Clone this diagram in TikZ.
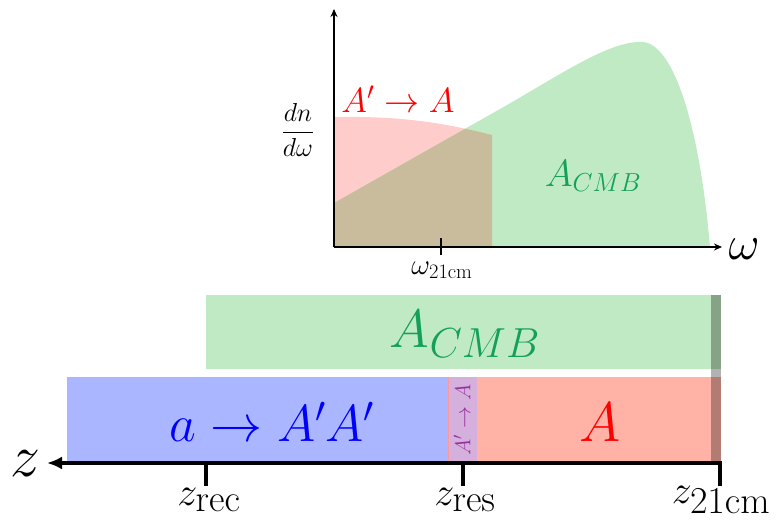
\RequirePackage{fix-cm}
\documentclass[tikz,border=0pt]{standalone}
\usetikzlibrary{arrows.meta}
\newcommand{\fsz}[1]{\fontsize{#1}{#1}\selectfont}
\DeclareMathSizes{40}{40}{38}{30}
\DeclareMathSizes{54}{54}{42}{33}
\DeclareMathSizes{29}{29}{20.5}{15}
\DeclareMathSizes{38}{38}{26}{20}
\definecolor{cmbfill}{RGB}{192,234,196}
\definecolor{pinkfill}{RGB}{255,204,204}
\definecolor{tanfill}{RGB}{201,188,156}
\definecolor{bluefill}{RGB}{170,182,255}
\definecolor{redfill}{RGB}{255,178,165}
\definecolor{purplefill}{RGB}{214,176,220}
\definecolor{cmbtext}{RGB}{20,160,90}
\definecolor{purpletext}{RGB}{150,50,160}
\tikzset{
  plotaxis/.style={line width=2.2pt},
  zaxis/.style={line width=3.4pt},
  lbl/.style={inner sep=0pt, anchor=center}
}
\begin{document}
\begin{tikzpicture}[x=1pt,y=-1pt]
\useasboundingbox (0,0) rectangle (777,522);
% ---- upper plot ----
\def\pinkpath{(334,247) -- (334,117) .. controls (400,116) and (440,122) .. (492,135) -- (492,247) -- cycle}
\def\greenpath{(334,247) -- (334,203) -- (500,109) .. controls (560,75) and (610,40) .. (643,42) .. controls (675,45) and (700,130) .. (710,247) -- cycle}
\fill[pinkfill] \pinkpath;
\fill[cmbfill] \greenpath;
\begin{scope}
  \clip \pinkpath;
  \fill[tanfill] \greenpath;
\end{scope}
\coordinate (O) at (334,247);
\coordinate (Ytop) at (334,9);
\coordinate (Xend) at (722,247);
\draw[plotaxis,-{Stealth[length=8pt,width=7pt]}] (O) -- (Ytop);
\draw[plotaxis,-{Stealth[length=8pt,width=7pt]}] (O) -- (Xend);
\coordinate (tka) at (441,238);
\coordinate (tkb) at (441,255);
\draw[line width=2.6pt] (tka) -- (tkb);
\node[lbl] (w21) at (442,270) {\fsz{29}$\omega_{21\mathrm{cm}}$};
\node[lbl] (w) at (744,249) {\fsz{48}$\omega$};
\node[lbl] (dndw) at (298,130) {\fsz{26}$\displaystyle\frac{dn}{d\omega}$};
\node[lbl, text=red] (aprimea) at (398,99) {\fsz{35}$A'\rightarrow A$};
\node[lbl, text=cmbtext] (acmbup) at (593,176) {\fsz{38}$A_{CMB}$};
% ---- lower bars ----
\fill[cmbfill] (206,295) rectangle (721,369);
\fill[bluefill] (67,377) rectangle (448,463);
\fill[purplefill] (448,377) rectangle (477,463);
\draw[red!40, line width=0.6pt] (448,377) -- (448,463) (477,377) -- (477,463);
\fill[redfill] (477.3,377) rectangle (721,463);
\fill[black, opacity=0.3] (711,295) rectangle (721,463);
\node[lbl, text=cmbtext] (acmb) at (465,334) {\fsz{54}$A_{CMB}$};
\node[lbl, text=blue] (aaa) at (272,422) {\fsz{52}$a\rightarrow A'A'$};
\node[lbl, text=red] (abig) at (600,422) {\fsz{56}$A$};
\node[lbl, text=purpletext, rotate=90] (rot) at (462,420) {\fsz{22}$A'\rightarrow A$};
% ---- z axis ----
\coordinate (zstart) at (721,463);
\coordinate (zend) at (47,463);
\draw[zaxis,-{Latex[length=15pt,width=13pt]}] (zstart) -- (zend);
\coordinate (t1a) at (206,463); \coordinate (t1b) at (206,486);
\coordinate (t2a) at (463,463); \coordinate (t2b) at (463,486);
\coordinate (t3a) at (720,461.3); \coordinate (t3b) at (720,486);
\draw[zaxis] (t1a) -- (t1b);
\draw[zaxis] (t2a) -- (t2b);
\draw[zaxis] (t3a) -- (t3b);
\node[lbl] (z) at (25,464) {\fsz{60}$z$};
\node[lbl] (zrec) at (209,500) {\fsz{40}$z_{\mathrm{rec}}$};
\node[lbl] (zres) at (465,500) {\fsz{40}$z_{\mathrm{res}}$};
\node[lbl] (z21) at (721,500) {\fsz{40}$z_{21\mathrm{cm}}$};
\end{tikzpicture}
\end{document}
